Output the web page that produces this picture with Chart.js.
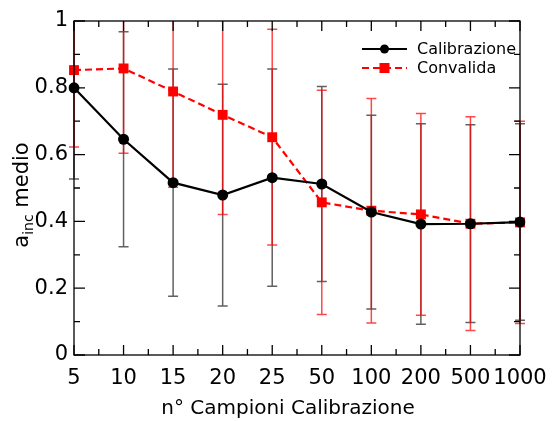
<!DOCTYPE html>
<html>
<head>
<meta charset="utf-8">
<script src="https://cdn.jsdelivr.net/npm/chart.js@4/dist/chart.umd.min.js"></script>
<style>
  html, body { margin: 0; padding: 0; background: #fff; }
  #wrap { width: 552px; height: 421px; }
</style>
</head>
<body>
<div id="wrap"><canvas id="c" width="552" height="421"></canvas></div>
<script>
// Number of calibration samples (categorical axis)
const categories = ['5', '10', '15', '20', '25', '50', '100', '200', '500', '1000'];

// Mean a_inc and its standard deviation, calibration set
const calMean = [0.800, 0.646, 0.516, 0.479, 0.531, 0.512, 0.428, 0.392, 0.393, 0.398];
const calSd   = [0.273, 0.322, 0.340, 0.332, 0.325, 0.292, 0.290, 0.300, 0.296, 0.294];

// Mean a_inc and its standard deviation, validation set
const valMean = [0.853, 0.858, 0.789, 0.719, 0.652, 0.457, 0.432, 0.421, 0.393, 0.397];
const valSd   = [0.230, 0.254, 0.287, 0.298, 0.323, 0.336, 0.336, 0.302, 0.320, 0.303];

// Y axis tick values
const yTicks = [0, 0.2, 0.4, 0.6, 0.8, 1];

const FONT = '"DejaVu Sans", Verdana, sans-serif';

const series = [
  { label: 'Calibrazione', mean: calMean, sd: calSd, color: '#000000', bar: 'rgba(0,0,0,0.62)',
    dash: [], point: 'circle', radius: 5.5 },
  { label: 'Convalida', mean: valMean, sd: valSd, color: '#ff0000', bar: 'rgba(255,0,0,0.72)',
    dash: [7, 4], point: 'rect', radius: 7 }
];

// Error bars (mean ± sd), clipped to the plot area, drawn beneath lines and markers
const errorBars = {
  id: 'errorBars',
  beforeDatasetsDraw(chart) {
    const { ctx, chartArea: a } = chart;
    const y = chart.scales.y;
    ctx.save();
    ctx.beginPath();
    ctx.rect(a.left - 6, a.top, a.right - a.left + 12, a.bottom - a.top);
    ctx.clip();
    series.forEach((s, i) => {
      const meta = chart.getDatasetMeta(i);
      ctx.strokeStyle = s.bar;
      ctx.lineWidth = 1.5;
      ctx.setLineDash([]);
      meta.data.forEach((pt, j) => {
        const x = pt.x;
        const yHi = y.getPixelForValue(s.mean[j] + s.sd[j]);
        const yLo = y.getPixelForValue(s.mean[j] - s.sd[j]);
        ctx.beginPath();
        ctx.moveTo(x, yHi); ctx.lineTo(x, yLo);
        ctx.moveTo(x - 5, yHi); ctx.lineTo(x + 5, yHi);
        ctx.moveTo(x - 5, yLo); ctx.lineTo(x + 5, yLo);
        ctx.stroke();
      });
    });
    ctx.restore();
  }
};

// Frame, inward ticks on all four sides, axis titles and legend
const decorations = {
  id: 'decorations',
  afterDraw(chart) {
    const { ctx, chartArea: a } = chart;
    const xs = chart.scales.x, ys = chart.scales.y;
    ctx.save();
    ctx.strokeStyle = '#000';
    ctx.lineWidth = 1.3;
    ctx.setLineDash([]);
    ctx.strokeRect(a.left, a.top, a.right - a.left, a.bottom - a.top);

    ctx.beginPath();
    // x ticks: major at categories, minor halfway between
    for (let i = 0; i < categories.length; i++) {
      const px = xs.getPixelForValue(i);
      ctx.moveTo(px, a.bottom); ctx.lineTo(px, a.bottom - 10);
      ctx.moveTo(px, a.top); ctx.lineTo(px, a.top + 10);
      if (i < categories.length - 1) {
        const mx = (px + xs.getPixelForValue(i + 1)) / 2;
        ctx.moveTo(mx, a.bottom); ctx.lineTo(mx, a.bottom - 6);
        ctx.moveTo(mx, a.top); ctx.lineTo(mx, a.top + 6);
      }
    }
    // y ticks: major every 0.2, minor every 0.1
    for (let k = 0; k <= 10; k++) {
      const py = ys.getPixelForValue(k / 10);
      const len = k % 2 === 0 ? 11 : 6;
      ctx.moveTo(a.left, py); ctx.lineTo(a.left + len, py);
      ctx.moveTo(a.right, py); ctx.lineTo(a.right - len, py);
    }
    ctx.stroke();

    // x axis title
    ctx.fillStyle = '#000';
    ctx.font = '20px ' + FONT;
    ctx.textAlign = 'center';
    ctx.textBaseline = 'middle';
    ctx.fillText('n° Campioni Calibrazione', 288, 409);

    // y axis title: a with subscript "inc", then " medio"
    ctx.save();
    ctx.translate(28, 195);
    ctx.rotate(-Math.PI / 2);
    ctx.textAlign = 'left';
    ctx.textBaseline = 'alphabetic';
    const big = '21px ' + FONT, small = '14px ' + FONT;
    ctx.font = big; const wA = ctx.measureText('a').width;
    ctx.font = small; const wSub = ctx.measureText('inc').width;
    ctx.font = big; const wRest = ctx.measureText(' medio').width;
    let x0 = -(wA + wSub + wRest) / 2;
    ctx.font = big; ctx.fillText('a', x0, 0); x0 += wA;
    ctx.font = small; ctx.fillText('inc', x0, 5); x0 += wSub;
    ctx.font = big; ctx.fillText(' medio', x0, 0);
    ctx.restore();

    // legend
    ctx.font = '16px ' + FONT;
    ctx.textAlign = 'left';
    ctx.textBaseline = 'middle';
    series.forEach((s, i) => {
      const ly = 49 + i * 19;
      ctx.strokeStyle = s.color;
      ctx.lineWidth = 2.2;
      ctx.setLineDash(s.dash);
      ctx.beginPath();
      ctx.moveTo(362, ly); ctx.lineTo(407, ly);
      ctx.stroke();
      ctx.setLineDash([]);
      ctx.fillStyle = s.color;
      if (s.point === 'circle') {
        ctx.beginPath(); ctx.arc(384.5, ly, 4.5, 0, Math.PI * 2); ctx.fill();
      } else {
        ctx.fillRect(384.5 - 5, ly - 5, 10, 10);
      }
      ctx.fillStyle = '#000';
      ctx.fillText(s.label, 417, ly + 1);
    });
    ctx.restore();
  }
};

new Chart(document.getElementById('c'), {
  type: 'line',
  data: {
    labels: categories,
    datasets: series.map(s => ({
      label: s.label,
      data: s.mean,
      borderColor: s.color,
      backgroundColor: s.color,
      borderWidth: 2.2,
      borderDash: s.dash,
      pointStyle: s.point,
      pointRadius: s.radius,
      pointHoverRadius: s.radius,
      pointBorderWidth: 0,
      tension: 0,
      fill: false
    }))
  },
  options: {
    responsive: false,
    animation: false,
    events: [],
    layout: { padding: { left: 0, right: 32, top: 21, bottom: 0 } },
    plugins: { legend: { display: false }, tooltip: { enabled: false } },
    scales: {
      x: {
        type: 'category',
        offset: false,
        grid: { display: false, drawTicks: false },
        border: { display: false },
        ticks: { color: '#000', font: { family: FONT, size: 21 }, padding: 11, maxRotation: 0, autoSkip: false },
        afterFit(scale) {
          scale.height = 66;
          scale.paddingLeft = 0;
          scale.paddingRight = 0;
        }
      },
      y: {
        min: 0, max: 1,
        grid: { display: false, drawTicks: false },
        border: { display: false },
        afterBuildTicks(scale) { scale.ticks = yTicks.map(v => ({ value: v })); },
        ticks: {
          color: '#000', font: { family: FONT, size: 21 }, padding: 6,
          callback: v => String(+v.toFixed(1))
        },
        afterFit(scale) {
          scale.width = 74;
          scale.paddingTop = 0;
          scale.paddingBottom = 0;
        }
      }
    }
  },
  plugins: [errorBars, decorations]
});
</script>
</body>
</html>
